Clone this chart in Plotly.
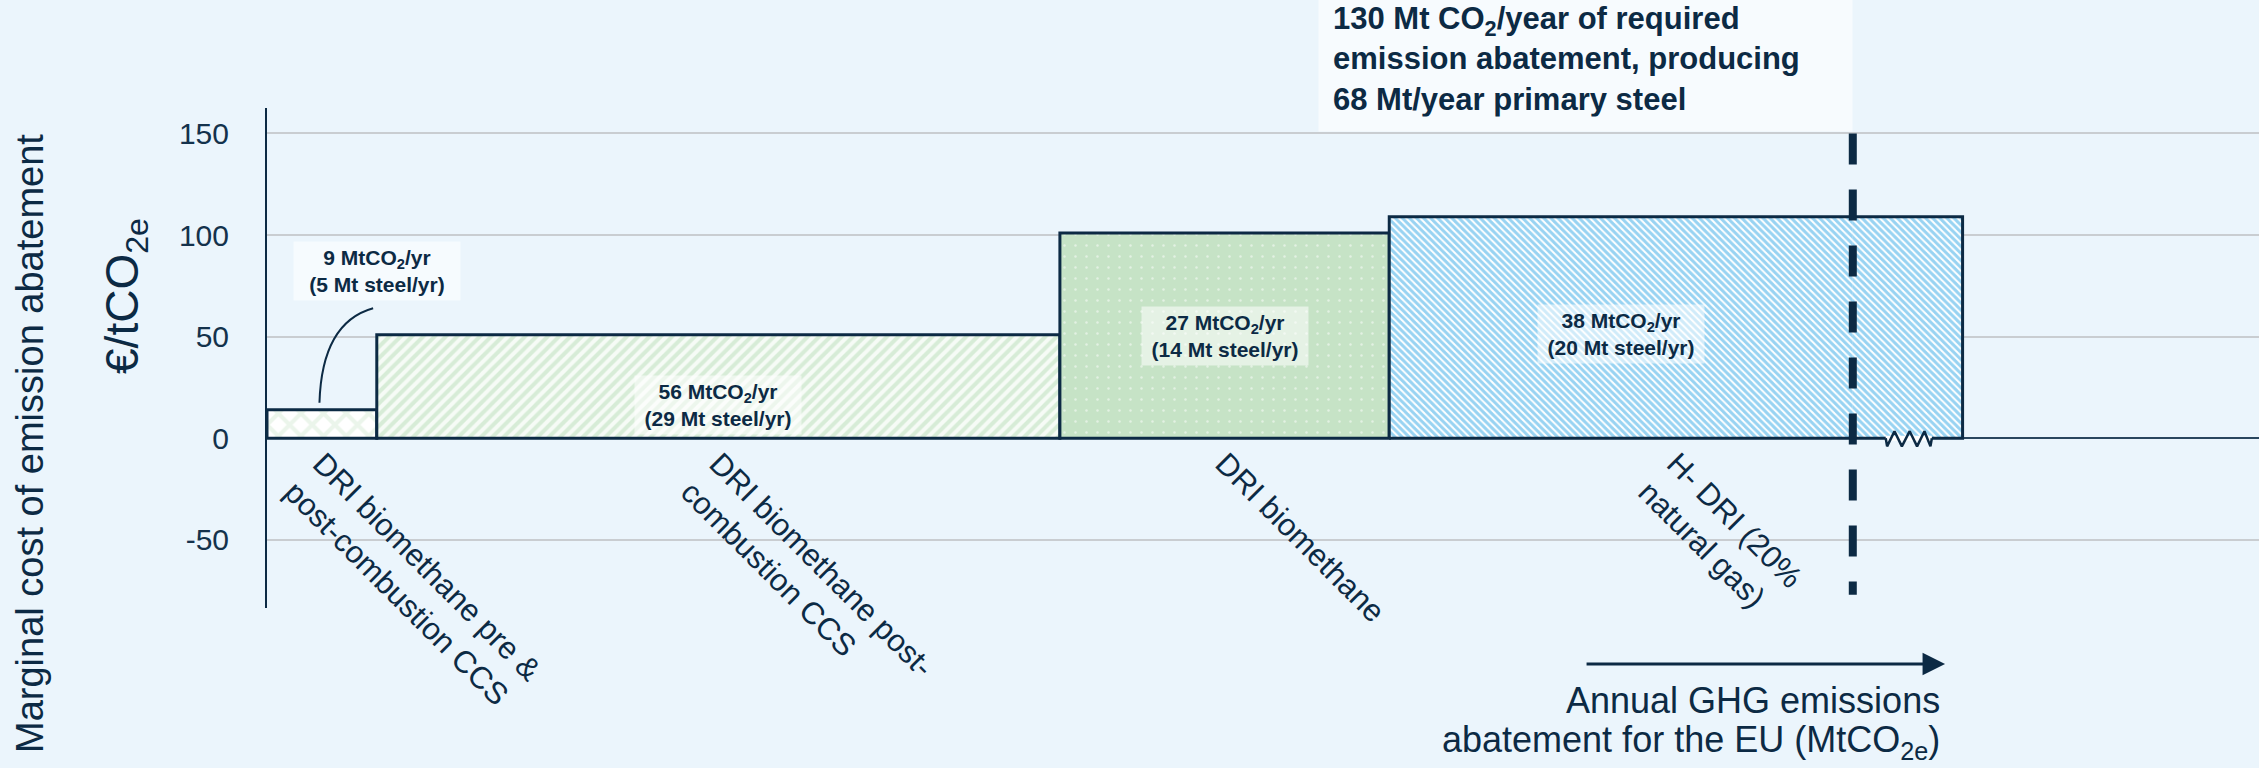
import plotly.graph_objects as go

# ---- data -------------------------------------------------------------
options = [
    "DRI biomethane pre &<br>post-combustion CCS",
    "DRI biomethane post-<br>combustion CCS",
    "DRI biomethane",
    "H- DRI (20%<br>natural gas)",
]
abatement = [9, 56, 27, 38]          # MtCO2/yr abated by each option
steel = [5, 29, 14, 20]              # Mt steel/yr produced by each option
cost = [14, 51, 101, 109]            # marginal abatement cost, EUR/tCO2e
required_abatement = 130             # MtCO2/yr required
required_steel = 68                  # Mt/yr primary steel
h_dri_beyond = 9                     # further H-DRI potential past the requirement
y_ticks = [-50, 0, 50, 100, 150]

# ---- style ------------------------------------------------------------
BG = "#EBF5FC"
NAVY = "#0C2A44"
FONT = "Liberation Sans"
patterns = [
    dict(shape="x", fgcolor="#D8ECD7", bgcolor="#FFFFFF", size=16, solidity=0.45),
    dict(shape="/", fgcolor="#B8DDB7", bgcolor="#F6FBF6", size=8, solidity=0.5),
    dict(shape=".", fgcolor="#FFFFFF", bgcolor="#C6E3C6", size=11, solidity=0.04),
    dict(shape="\\", fgcolor="#31A8E6", bgcolor="#FFFFFF", size=5, solidity=0.6),
]

# cumulative left/right edges of the cost-curve blocks
edges = [0]
for a in abatement:
    edges.append(edges[-1] + a)
lefts, rights = edges[:-1], edges[1:]
centers = [(l + r) / 2 for l, r in zip(lefts, rights)]
h_dri_end = rights[3] + h_dri_beyond

fig = go.Figure()

# first three blocks with their own outline
for i in range(3):
    fig.add_trace(go.Bar(
        x=[centers[i]], y=[cost[i]], width=[abatement[i]],
        marker=dict(color=patterns[i]["bgcolor"], pattern=patterns[i],
                    line=dict(color=NAVY, width=3)),
        hoverinfo="skip",
    ))

# H-DRI: the part inside the requirement and the part beyond it
fig.add_trace(go.Bar(
    x=[centers[3]], y=[cost[3]], width=[abatement[3]],
    marker=dict(color="#FFFFFF", pattern=patterns[3], line=dict(width=0)),
    hoverinfo="skip",
))
fig.add_trace(go.Bar(
    x=[rights[3] + h_dri_beyond / 2], y=[cost[3]], width=[h_dri_beyond],
    marker=dict(color="#FFFFFF", pattern=patterns[3], line=dict(width=0)),
    hoverinfo="skip",
))
fig.add_trace(go.Scatter(
    x=[lefts[3], lefts[3], h_dri_end, h_dri_end, lefts[3]],
    y=[0, cost[3], cost[3], 0, 0],
    mode="lines", line=dict(color=NAVY, width=3), hoverinfo="skip",
))

# axis-break zigzag on the base of the H-DRI block
zz_t = [0, 0.03, 0.19, 0.35, 0.52, 0.68, 0.84, 0.97, 1.0]
zz_y = [0, -4, 3.5, -4, 3.5, -4, 3.5, -4, 0]
zz_x0 = rights[3] + 0.30 * h_dri_beyond
zz_x1 = rights[3] + 0.72 * h_dri_beyond
fig.add_trace(go.Scatter(
    x=[zz_x0, zz_x1], y=[0, 0], mode="lines",
    line=dict(color="#FFFFFF", width=5), hoverinfo="skip",
))
fig.add_trace(go.Scatter(
    x=[zz_x0 + t * (zz_x1 - zz_x0) for t in zz_t], y=zz_y, mode="lines",
    line=dict(color=NAVY, width=2.5), hoverinfo="skip",
))

# required abatement marker
fig.add_trace(go.Scatter(
    x=[required_abatement, required_abatement], y=[150, -77], mode="lines",
    line=dict(color=NAVY, width=8, dash="31px,25px"), hoverinfo="skip",
))

# invisible trace carrying the category axis
cat_x = [centers[0], centers[1], centers[2], (lefts[3] + h_dri_end) / 2]
fig.add_trace(go.Scatter(
    x=cat_x, y=[0, 0, 0, 0], xaxis="x2", mode="markers",
    marker=dict(opacity=0), hoverinfo="skip",
))

y_lo, y_hi = -83.5, 162.5
zero_pos = (0 - y_lo) / (y_hi - y_lo)

fig.update_layout(
    width=2259, height=768,
    margin=dict(l=267, r=0, t=108, b=160),
    paper_bgcolor=BG, plot_bgcolor=BG,
    showlegend=False, barmode="overlay",
    font=dict(family=FONT, color=NAVY),
    xaxis=dict(range=[0, 163.3], showgrid=False, zeroline=False,
               showline=False, showticklabels=False, ticks=""),
    xaxis2=dict(matches="x", overlaying="x", anchor="free", position=zero_pos,
                side="bottom", showgrid=False, zeroline=False, showline=False,
                ticks="", tickangle=45, tickvals=cat_x, ticktext=options,
                tickfont=dict(family=FONT, size=31, color=NAVY)),
    yaxis=dict(range=[y_lo, y_hi], tickvals=y_ticks,
               ticktext=[str(v) for v in y_ticks],
               showgrid=True, gridcolor="#C9CDD1", gridwidth=2,
               zeroline=True, zerolinecolor="#2A465E", zerolinewidth=2,
               showline=True, linecolor=NAVY, linewidth=2,
               ticks="", ticklabelstandoff=30,
               tickfont=dict(family=FONT, size=30, color="#14324C")),
)

# value labels inside / above each block
label_y = [82.3, 16.4, 50.4, 51.3]
label_x = [rights[0], centers[1], centers[2], centers[3]]
for i in range(4):
    fig.add_annotation(
        x=label_x[i], y=label_y[i], xref="x", yref="y", showarrow=False,
        xanchor="center", yanchor="middle",
        text=f"<b>{abatement[i]} MtCO<sub>2</sub>/yr<br>({steel[i]} Mt steel/yr)</b>",
        font=dict(family=FONT, size=21, color=NAVY),
        bgcolor="rgba(255,255,255,0.55)", borderpad=4, width=158,
    )

# leader from the first label down to its block
lx0, ly0 = rights[0] - 0.3, 64
lcx, lcy = centers[0], 57
lx1, ly1 = centers[0] - 0.2, cost[0] + 3.5
fig.add_shape(type="path", xref="x", yref="y",
              path=f"M {lx0},{ly0} Q {lcx},{lcy} {lx1},{ly1}",
              line=dict(color=NAVY, width=2))

# requirement call-out
fig.add_annotation(
    x=required_abatement, y=150.6, xref="x", yref="y",
    xanchor="right", yanchor="bottom", showarrow=False, align="left",
    text=(f"<b>{required_abatement} Mt CO<sub>2</sub>/year of required<br>"
          f"emission abatement, producing<br>"
          f"{required_steel} Mt/year primary steel</b>"),
    font=dict(family=FONT, size=31, color=NAVY),
    bgcolor="rgba(255,255,255,0.6)", borderpad=14, width=505,
)

# y-axis titles
fig.add_annotation(
    x=-0.119, y=0.33, xref="paper", yref="paper", showarrow=False,
    xanchor="center", yanchor="middle",
    textangle=-90, text="Marginal cost of emission abatement",
    font=dict(family=FONT, size=38, color=NAVY),
)
fig.add_annotation(
    x=-0.0713, y=0.624, xref="paper", yref="paper", showarrow=False,
    xanchor="center", yanchor="middle",
    textangle=-90, text="€/tCO<sub>2e</sub>",
    font=dict(family=FONT, size=46, color=NAVY),
)

# x-axis direction arrow and title
fig.add_annotation(
    x=0.8424, y=-0.112, xref="paper", yref="paper",
    ax=-360, ay=0, axref="pixel", ayref="pixel", text="",
    showarrow=True, arrowhead=2, arrowsize=1.5, arrowwidth=3, arrowcolor=NAVY,
)
fig.add_annotation(
    x=0.8409, y=-0.184, xref="paper", yref="paper", showarrow=False,
    xanchor="right", yanchor="middle", text="Annual GHG emissions",
    font=dict(family=FONT, size=36, color=NAVY),
)
fig.add_annotation(
    x=0.8409, y=-0.268, xref="paper", yref="paper", showarrow=False,
    xanchor="right", yanchor="middle",
    text="abatement for the EU (MtCO<sub>2e</sub>)",
    font=dict(family=FONT, size=36, color=NAVY),
)

fig.write_html("out.html")
